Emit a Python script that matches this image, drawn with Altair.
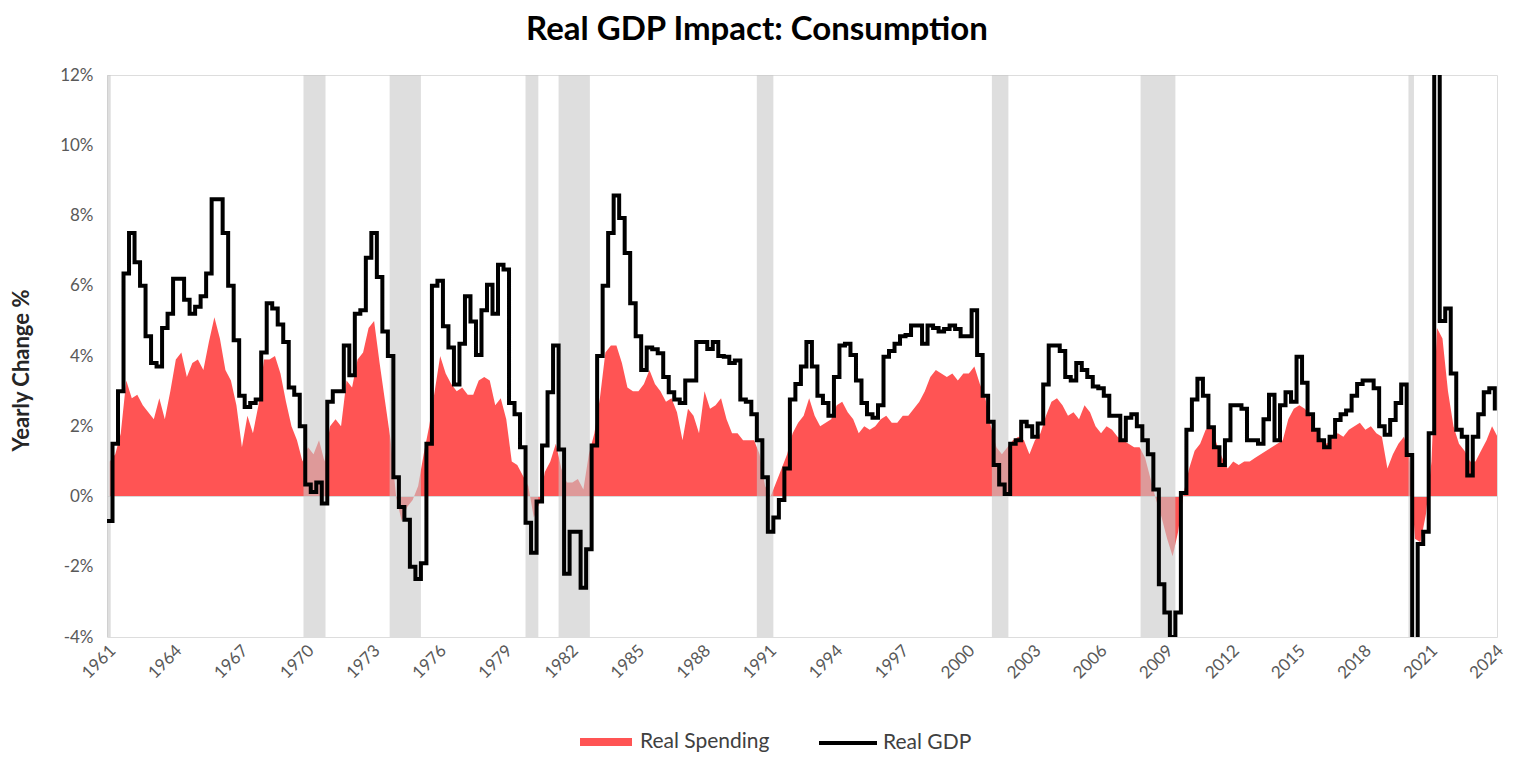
import altair as alt
import pandas as pd

START_YEAR = 1961

# Real GDP, yearly change %, quarterly (1961Q1 ... 2024Q1)
gdp = [
    -0.7, 1.5, 3.0, 6.35,      # 1961
    7.5, 6.67, 6.0, 4.56,      # 1962
    3.8, 3.7, 4.8, 5.2,        # 1963
    6.2, 6.2, 5.6, 5.2,        # 1964
    5.4, 5.7, 6.35, 8.46,      # 1965
    8.46, 7.5, 6.0, 4.45,      # 1966
    2.87, 2.55, 2.66, 2.76,    # 1967
    4.1, 5.5, 5.35, 4.9,       # 1968
    4.4, 3.1, 2.9, 2.0,        # 1969
    0.34, 0.13, 0.4, -0.2,     # 1970
    2.7, 3.0, 3.0, 4.3,        # 1971
    3.45, 5.2, 5.3, 6.8,       # 1972
    7.5, 6.25, 4.7, 4.0,       # 1973
    0.55, -0.3, -0.66, -2.0,   # 1974
    -2.35, -1.9, 1.5, 6.0,     # 1975
    6.14, 4.85, 4.24, 3.19,    # 1976
    4.35, 5.7, 4.98, 4.03,     # 1977
    5.3, 6.03, 5.2, 6.6,       # 1978
    6.46, 2.66, 2.34, 1.4,     # 1979
    -0.75, -1.6, -0.14, 1.45,  # 1980
    2.97, 4.3, 1.34, -2.2,     # 1981
    -1.0, -1.0, -2.6, -1.5,    # 1982
    1.45, 4.0, 6.0, 7.5,       # 1983
    8.57, 7.93, 6.93, 5.5,     # 1984
    4.56, 3.6, 4.24, 4.19,     # 1985
    4.08, 3.4, 2.97, 2.76,     # 1986
    2.66, 3.3, 3.3, 4.4,       # 1987
    4.4, 4.2, 4.4, 4.0,        # 1988
    3.98, 3.8, 3.87, 2.76,     # 1989
    2.7, 2.34, 1.6, 0.55,      # 1990
    -1.0, -0.6, -0.1, 0.8,     # 1991
    2.76, 3.2, 3.7, 4.4,       # 1992
    3.7, 2.87, 2.66, 2.3,      # 1993
    3.4, 4.3, 4.35, 4.03,      # 1994
    3.3, 2.66, 2.34, 2.24,     # 1995
    2.6, 3.98, 4.14, 4.35,     # 1996
    4.56, 4.6, 4.87, 4.87,     # 1997
    4.35, 4.87, 4.8, 4.7,      # 1998
    4.77, 4.87, 4.77, 4.56,    # 1999
    4.56, 5.3, 4.03, 2.87,     # 2000
    2.13, 0.9, 0.34, 0.07,     # 2001
    1.5, 1.6, 2.13, 2.0,       # 2002
    1.7, 2.08, 3.19, 4.3,      # 2003
    4.3, 4.14, 3.4, 3.3,       # 2004
    3.8, 3.6, 3.4, 3.13,       # 2005
    3.08, 2.87, 2.3, 2.3,      # 2006
    1.6, 2.24, 2.34, 2.0,      # 2007
    1.6, 1.2, 0.2, -2.5,       # 2008
    -3.3, -4.0, -3.3, 0.1,     # 2009
    1.9, 2.76, 3.35, 2.87,     # 2010
    1.97, 1.4, 0.9, 1.6,       # 2011
    2.6, 2.6, 2.5, 1.6,        # 2012
    1.6, 1.5, 2.2, 2.9,        # 2013
    1.6, 2.6, 2.97, 2.7,       # 2014
    3.98, 3.24, 2.34, 1.9,     # 2015
    1.6, 1.4, 1.7, 2.18,       # 2016
    2.34, 2.45, 2.87, 3.2,     # 2017
    3.3, 3.3, 3.08, 2.0,       # 2018
    1.76, 2.18, 2.66, 3.19,    # 2019
    1.18, -7.5, -1.35, -1.0,   # 2020
    1.8, 12.2, 5.0, 5.35,      # 2021
    3.5, 1.9, 1.7, 0.6,        # 2022
    1.7, 2.34, 2.97, 3.08,     # 2023
    2.45,                      # 2024
]

# Real Spending contribution, yearly change %, quarterly
spending = [
    1.0, 1.2, 1.8, 3.3,        # 1961
    2.8, 2.9, 2.6, 2.4,        # 1962
    2.2, 2.8, 2.2, 3.0,        # 1963
    3.9, 4.1, 3.4, 3.8,        # 1964
    3.9, 3.6, 4.4, 5.1,        # 1965
    4.5, 3.6, 3.3, 2.6,        # 1966
    1.4, 2.3, 1.8, 2.6,        # 1967
    3.9, 3.9, 4.0, 3.5,        # 1968
    2.7, 2.0, 1.6, 1.0,        # 1969
    1.4, 1.2, 1.6, 1.0,        # 1970
    2.0, 2.2, 2.0, 3.3,        # 1971
    3.1, 3.9, 4.1, 4.8,        # 1972
    5.0, 3.8, 2.7, 1.6,        # 1973
    0.0, -0.7, -0.3, -0.1,     # 1974
    0.3, 1.2, 2.0, 3.0,        # 1975
    4.0, 3.5, 3.2, 3.0,        # 1976
    3.1, 2.9, 2.9, 3.3,        # 1977
    3.4, 3.3, 2.6, 2.8,        # 1978
    2.2, 1.0, 0.9, 0.6,        # 1979
    0.3, -0.6, -0.2, 0.7,      # 1980
    1.0, 1.5, 0.8, 0.4,        # 1981
    0.4, 0.5, 0.2, 1.2,        # 1982
    1.8, 2.8, 4.1, 4.3,        # 1983
    4.3, 3.8, 3.1, 3.0,        # 1984
    3.0, 3.2, 3.6, 3.2,        # 1985
    3.0, 2.7, 2.8, 2.4,        # 1986
    1.6, 2.5, 2.3, 1.8,        # 1987
    3.0, 2.5, 2.6, 2.8,        # 1988
    2.2, 1.8, 1.8, 1.6,        # 1989
    1.6, 1.6, 1.2, 0.3,        # 1990
    0.0, 0.4, 0.8, 1.2,        # 1991
    1.8, 2.1, 2.3, 2.8,        # 1992
    2.3, 2.0, 2.1, 2.2,        # 1993
    2.6, 2.7, 2.4, 2.2,        # 1994
    1.8, 2.0, 1.9, 2.0,        # 1995
    2.2, 2.3, 2.1, 2.1,        # 1996
    2.3, 2.3, 2.5, 2.7,        # 1997
    3.0, 3.4, 3.6, 3.5,        # 1998
    3.4, 3.5, 3.3, 3.5,        # 1999
    3.5, 3.7, 3.2, 2.8,        # 2000
    2.0, 1.4, 1.2, 1.4,        # 2001
    1.6, 1.7, 1.6, 1.2,        # 2002
    1.6, 1.8, 2.3, 2.7,        # 2003
    2.8, 2.6, 2.3, 2.4,        # 2004
    2.2, 2.6, 2.4, 2.0,        # 2005
    1.8, 2.0, 1.9, 1.7,        # 2006
    1.6, 1.5, 1.4, 1.4,        # 2007
    1.1, 0.5, -0.1, -0.6,      # 2008
    -1.2, -1.7, -1.0, 0.1,     # 2009
    0.8, 1.3, 1.5, 1.9,        # 2010
    2.0, 1.5, 1.1, 0.8,        # 2011
    1.0, 0.9, 1.0, 1.0,        # 2012
    1.1, 1.2, 1.3, 1.4,        # 2013
    1.5, 1.6, 2.2, 2.5,        # 2014
    2.6, 2.5, 2.3, 1.9,        # 2015
    1.6, 1.5, 1.7, 1.8,        # 2016
    1.7, 1.9, 2.0, 2.1,        # 2017
    1.9, 2.0, 1.8, 1.7,        # 2018
    0.8, 1.2, 1.5, 1.7,        # 2019
    1.2, -1.2, -1.3, -0.5,     # 2020
    1.0, 4.8, 4.5, 3.0,        # 2021
    2.0, 1.5, 1.3, 1.0,        # 2022
    1.0, 1.3, 1.6, 2.0,        # 2023
    1.7,                       # 2024
]

# Recession periods (year fractions)
rec_start = [1961.0, 1969.92, 1973.83, 1980.0, 1981.5, 1990.5, 2001.17, 2007.92, 2020.08]
rec_end = [1961.17, 1970.92, 1975.25, 1980.58, 1982.92, 1991.25, 2001.92, 2009.5, 2020.33]

year_ticks = list(range(1961, 2025, 3))
y_ticks = [-4, -2, 0, 2, 4, 6, 8, 10, 12]

gdp_df = pd.DataFrame({
    "t": [START_YEAR + i / 4 for i in range(len(gdp))],
    "v": gdp,
    "s": "Real GDP",
})
sp_df = pd.DataFrame({
    "t": [START_YEAR + i / 4 + 0.125 for i in range(len(spending))],
    "v": spending,
    "s": "Real Spending",
})
rec_df = pd.DataFrame({"a": rec_start, "b": rec_end})
zero_df = pd.DataFrame({"z": [0]})

FONT = "Lato"
PLOT_W = 1390
PLOT_H = 562
x_scale = alt.Scale(domain=[1961, 2024.1], nice=False, zero=False)
y_scale = alt.Scale(domain=[-4, 12], nice=False)

x_axis = alt.Axis(
    values=year_ticks, format="d", labelAngle=-45, grid=False, domain=False,
    ticks=False, labelFontSize=17, labelColor="#595959", labelFont=FONT,
    labelPadding=5, title=None, labelOverlap=False,
)
y_axis = alt.Axis(
    values=y_ticks, labelExpr="datum.value + '%'", grid=False, domain=False,
    ticks=False, labelFontSize=17, labelColor="#595959", labelFont=FONT,
    labelPadding=14, title="Yearly Change %", titleFontSize=22,
    titleFontWeight="bold", titleColor="#262626", titleFont=FONT,
    titleX=-86, titleY=295, titleAlign="center", titleBaseline="middle",
)

area = alt.Chart(sp_df).mark_area(clip=True, interpolate="linear").encode(
    x=alt.X("t:Q", scale=x_scale, axis=x_axis),
    y=alt.Y("v:Q", scale=y_scale, axis=y_axis),
    fill=alt.Fill(
        "s:N",
        scale=alt.Scale(domain=["Real Spending"], range=["#FF5454"]),
        legend=alt.Legend(
            orient="none", legendX=485, legendY=653, title=None,
            symbolType="M-2,-0.3H2V0.3H-2Z", symbolSize=676,
            symbolOpacity=1, labelFontSize=21, labelColor="#404040",
            labelFont=FONT, labelOffset=20, padding=0,
        ),
    ),
)

zero = alt.Chart(zero_df).mark_rule(color="#D9D9D9", strokeWidth=1).encode(
    y=alt.Y("z:Q", scale=y_scale)
)

rec = alt.Chart(rec_df).mark_rect(color="#C8C8C8", opacity=0.6, clip=True).encode(
    x=alt.X("a:Q", scale=x_scale),
    x2="b:Q",
    y=alt.value(0),
    y2=alt.value(PLOT_H),
)

line = alt.Chart(gdp_df).mark_line(
    clip=True, interpolate="step-after", strokeWidth=4, strokeJoin="miter"
).encode(
    x=alt.X("t:Q", scale=x_scale),
    y=alt.Y("v:Q", scale=y_scale),
    stroke=alt.Stroke(
        "s:N",
        scale=alt.Scale(domain=["Real GDP"], range=["#000000"]),
        legend=alt.Legend(
            orient="none", legendX=710, legendY=637, title=None,
            symbolType="stroke", symbolSize=3364, symbolStrokeWidth=4,
            labelFontSize=21, labelColor="#404040", labelFont=FONT,
            labelOffset=4, padding=0,
        ),
    ),
)

chart = alt.layer(area, zero, rec, line).resolve_scale(
    fill="independent", stroke="independent"
).properties(
    width=PLOT_W,
    height=PLOT_H,
    title=alt.TitleParams(
        "Real GDP Impact: Consumption", fontSize=33, fontWeight="bold",
        font=FONT, color="#000000", anchor="middle", dx=-45, offset=19,
    ),
    autosize=alt.AutoSizeParams(type="none"),
    padding={"left": 99, "top": 67, "right": 10, "bottom": 120},
).configure_view(stroke=None).configure(font=FONT, background="white")

chart.save("out.html", embed_options={"renderer": "svg", "actions": False})
